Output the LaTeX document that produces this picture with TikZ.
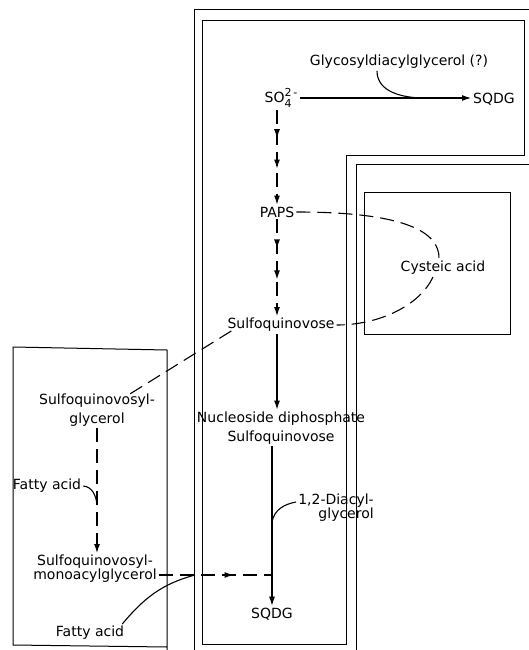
\documentclass[tikz,border=0pt]{standalone}
\usepackage{fontspec}
\setmainfont{DejaVu Sans}
\usetikzlibrary{decorations.markings, arrows.meta}

\begin{document}
\begin{tikzpicture}[>={Latex[length=9pt, width=6pt]}, x=1pt, y=-1pt,
    lbl/.style={font=\fontsize{14}{19}\selectfont, inner sep=2pt},
    tight/.style={font=\fontsize{14}{14}\selectfont},
    memb/.style={line width=1pt},
    conn/.style={line width=1.1pt},
    dline/.style={conn, dash pattern=on 14pt off 7pt},
    tips/.style={postaction={decorate}, decoration={markings,
        mark=at position 0.3 with {\arrow{>}},
        mark=at position 0.62 with {\arrow{>}}}}]

    % 0. khung
    \useasboundingbox (0,0) rectangle (529,650);

    % 1. Các màng
    \draw[memb] (194,650) -- (194,10) -- (529,10);
    \draw[memb] (529,164) -- (356,164) -- (356,650);
    \draw[memb] (202,21) -- (524,21) -- (524,155) -- (346,155) -- (346,644) -- (202,644) -- cycle;
    \draw[memb] (364,192) rectangle (510,334);
    \draw[memb] (167,650) -- (167,350) -- (13,347) -- (13,645) -- (167,647);

    % 2. Các chất
    \node[lbl] (gly) at (399,62) {Glycosyldiacylglycerol (?)};
    \node[lbl] (so4) at (281,98) {SO\rlap{\raisebox{-5pt}{\fontsize{11}{11}\selectfont 4}}\raisebox{6pt}{\fontsize{11}{11}\selectfont 2\,-}};
    \node[lbl] (sqdga) at (494,99) {SQDG};
    \node[lbl] (paps) at (277,212) {PAPS};
    \node[lbl] (cys) at (443,268) {Cysteic acid};
    \node[lbl] (sq) at (281,325) {Sulfoquinovose};
    \node[lbl, align=center] (nds) at (281,428) {Nucleoside diphosphate\\Sulfoquinovose};
    \node[lbl] (sqdgb) at (272,614) {SQDG};
    \node[lbl, tight, align=right] (dag) at (336,508) {1,2-Diacyl-\\glycerol};
    \node[lbl, align=center] (sqg) at (97,410) {Sulfoquinovosyl-\\glycerol};
    \node[lbl] (fa1) at (47,486) {Fatty acid};
    \node[lbl, tight, align=center] (sqmg) at (95,569) {Sulfoquinovosyl-\\monoacylglycerol};
    \node[lbl] (fa2) at (90,633) {Fatty acid};

    % 3. Các điểm nối
    \path (so4.east) ++(125,0) coordinate (j1);
    \coordinate (j2) at (272,522);
    \coordinate (j3) at (97,505);
    \coordinate (j4) at (272,575);
    \coordinate (j5) at (195,575);

    % 4. Các mũi tên
    \draw[conn, ->] (so4.east) -- (so4.east -| sqdga.west);
    \draw[conn] ([xshift=-22pt]gly.south) to[out=-90, in=180] (j1);

    \draw[dline, tips, ->] (so4.south -| paps.north) -- (paps.north);
    \draw[dline, tips, ->] (paps.south) -- (paps.south |- sq.north);
    \draw[conn, ->] (sq.south -| paps.south) -- (nds.north -| paps.south);
    \draw[conn, ->] (nds.south -| sqdgb.north) -- (sqdgb.north);
    \draw[conn] ([yshift=6pt]dag.west) to[out=190, in=80] (j2);

    \draw[dline] (paps.east) .. controls (405,212) and (440,232) .. ([xshift=-4pt]cys.north);
    \draw[dline] ([xshift=-10pt]cys.south) .. controls (420,305) and (380,325) .. (sq.east);
    \draw[dline] ([xshift=6pt, yshift=3pt]sq.south west) -- ([xshift=-28pt, yshift=-3pt]sqg.north east);

    \draw[dline, ->] (sqg.south) -- (sqmg.north -| sqg.south);
    \draw[conn] (fa1.east) to[out=-5, in=95] (j3);
    \draw[dline, postaction={decorate}, decoration={markings,
        mark=at position 0.66 with {\arrow{>}}}] (sqmg.east |- j4) -- (j4);
    \draw[conn] ([xshift=-4pt]fa2.north east) to[out=50, in=195] (j5);
\end{tikzpicture}
\end{document}
